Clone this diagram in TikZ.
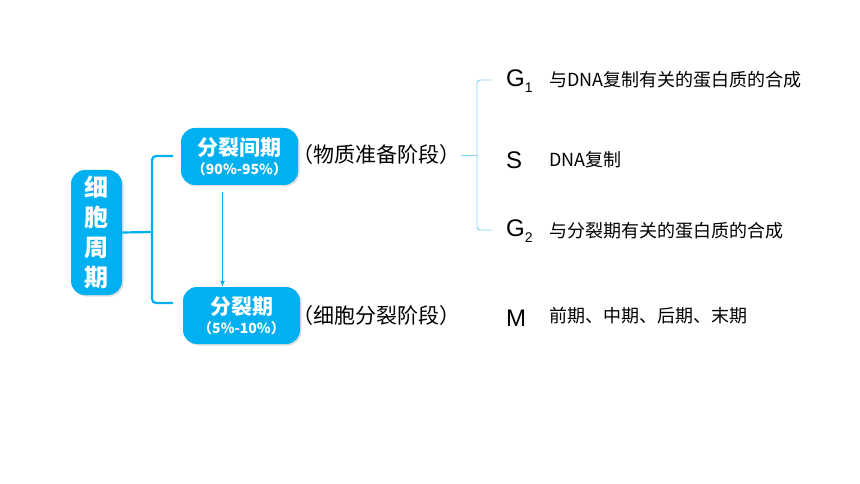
\documentclass[tikz,border=0pt]{standalone}
\usepackage{fontspec}
\setmainfont{Liberation Sans}
\newfontfamily\cjk{Noto Sans CJK SC}
\usepackage{tikz}
\usetikzlibrary{calc,positioning,arrows.meta,shadows}
\definecolor{cellblue}{HTML}{00B0F0}
\definecolor{thinblue}{HTML}{7AD2F4}

\begin{document}
\begin{tikzpicture}[x=1pt,y=-1pt,
    box/.style={fill=cellblue,rounded corners=14pt,text=white,align=center,inner sep=0pt,
      drop shadow={opacity=0.25,shadow xshift=1.5pt,shadow yshift=-1.5pt}},
    lbl/.style={anchor=west,inner sep=0pt},
    phase/.style={anchor=west,inner sep=0pt,font=\fontsize{24}{24}\selectfont},
    bracel/.style={draw=cellblue,line width=2.2pt},
    bracer/.style={draw=thinblue,line width=0.9pt},
    arr/.style={draw=cellblue,line width=1.1pt,-{Latex[length=6pt,width=5pt]}}]
    \useasboundingbox (0,0) rectangle (860,484);
    % boxes
    \node[box,minimum width=51pt,minimum height=125pt,font=\cjk\bfseries\fontsize{24}{30}\selectfont] at (96.5,232.5) (cycle) {细\\胞\\周\\期};
    \node[box,minimum width=117pt,minimum height=57pt,font=\cjk\bfseries\fontsize{14}{19}\selectfont] at (239.5,156.5) (inter) {{\fontsize{21}{21}\selectfont 分裂间期}\\（90\%-95\%）};
    \node[box,minimum width=117pt,minimum height=57pt,font=\cjk\bfseries\fontsize{14}{19}\selectfont] at (241.5,315.5) (mitosis) {{\fontsize{21}{21}\selectfont 分裂期}\\（5\%-10\%）};
    \node[lbl,font=\cjk\fontsize{21}{21}\selectfont] at (292,155) (prep) {（物质准备阶段）};
    \node[lbl,font=\cjk\fontsize{21}{21}\selectfont] at (292,316) (divide) {（细胞分裂阶段）};
    % phases
    \node[phase] at (506,81) (g1) {G\raisebox{-6pt}{\fontsize{14}{14}\selectfont 1}};
    \node[phase] at (506,160) (s) {S};
    \node[phase] at (506,231) (g2) {G\raisebox{-6pt}{\fontsize{14}{14}\selectfont 2}};
    \node[phase] at (506,318) (m) {M};
    \node[lbl,font=\cjk\fontsize{18}{18}\selectfont] at (549,80) (g1txt) {与DNA复制有关的蛋白质的合成};
    \node[lbl,font=\cjk\fontsize{18}{18}\selectfont] at (549,160) (stxt) {DNA复制};
    \node[lbl,font=\cjk\fontsize{18}{18}\selectfont] at (549,231) (g2txt) {与分裂期有关的蛋白质的合成};
    \node[lbl,font=\cjk\fontsize{18}{18}\selectfont] at (549,316) (mtxt) {前期、中期、后期、末期};
    % braces
    \coordinate (lt) at (173,156);
    \coordinate (lm) at (152,232);
    \coordinate (lb) at (173,303);
    \draw[bracel,rounded corners=4pt] (lt) -| (lm) |- (lb);
    \draw[bracel] (cycle.east) -- (lm);
    \coordinate (rt) at (492,80);
    \coordinate (rm) at (477,155);
    \coordinate (rb) at (492,230);
    \coordinate (rtip) at (461,155);
    \draw[bracer,rounded corners=3pt] (rt) -| (rm) |- (rb);
    \draw[bracer] (rtip) -- (rm);
    % interphase -> division
    \draw[arr] ([xshift=-17pt,yshift=-7pt]inter.south) -- ([xshift=-17pt]inter.south |- mitosis.north);
\end{tikzpicture}
\end{document}
